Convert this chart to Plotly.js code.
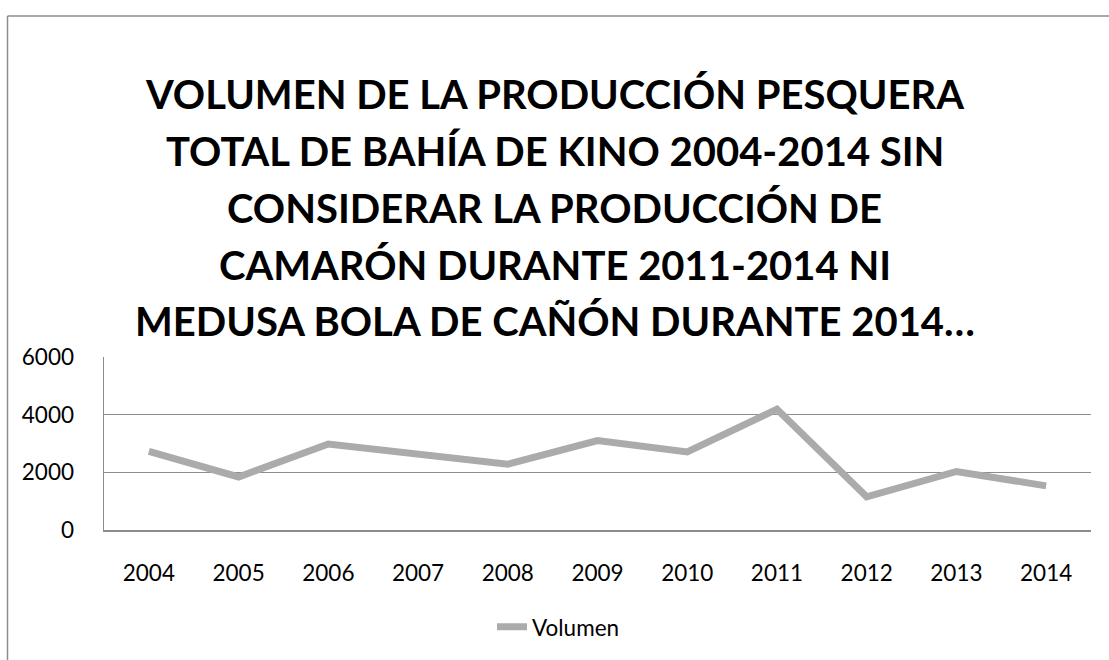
<!DOCTYPE html>
<html>
<head>
<meta charset="utf-8">
<script src="https://cdn.plot.ly/plotly-3.0.1.min.js"></script>
<style>html,body{margin:0;padding:0;background:#fff;}#chart{width:1109px;height:660px;}</style>
</head>
<body>
<div id="chart"></div>
<script>
const years = ['2004','2005','2006','2007','2008','2009','2010','2011','2012','2013','2014'];
const volumen = [2730, 1840, 2980, 2640, 2280, 3100, 2710, 4190, 1150, 2030, 1530];
const yTicks = [0, 2000, 4000, 6000];
const seriesName = 'Volumen';
const titleLines = [
  'VOLUMEN DE LA PRODUCCIÓN PESQUERA',
  'TOTAL DE BAHÍA DE KINO 2004-2014 SIN',
  'CONSIDERAR LA PRODUCCIÓN DE',
  'CAMARÓN DURANTE 2011-2014 NI',
  'MEDUSA BOLA DE CAÑÓN DURANTE 2014…'
];

const FONT = 'Lato, "Open Sans", sans-serif';
const W = 1109, H = 660;
const mL = 104, mR = 18, mT = 357, mB = 127;
const pw = W - mL - mR, ph = H - mT - mB;
function px2x(px){ return (px - mL) / pw; }
function py2y(py){ return (H - mB - py) / ph; }

const titleY = [89, 147, 205, 263, 320];
const annotations = titleLines.map((t, i) => ({
  text: '<b>' + t + '</b>', xref: 'paper', yref: 'paper',
  x: px2x(W / 2), y: py2y(titleY[i]), xanchor: 'center', yanchor: 'middle',
  showarrow: false, font: {family: FONT, size: 40, color: '#000'}
}));

const trace = {
  x: years, y: volumen, type: 'scatter', mode: 'lines', name: seriesName,
  line: {color: '#ABABAB', width: 7}
};

const layout = {
  width: W, height: H,
  margin: {l: mL, r: mR, t: mT, b: mB, pad: 0},
  paper_bgcolor: '#fff', plot_bgcolor: '#fff',
  font: {family: FONT, size: 22.5, color: '#000'},
  showlegend: true,
  legend: {orientation: 'h', x: px2x(492), y: py2y(610), xanchor: 'left', yanchor: 'top',
           font: {family: FONT, size: 22.5, color: '#000'}, bgcolor: 'rgba(0,0,0,0)'},
  xaxis: {type: 'category', range: [-0.5, 10.5], showgrid: false, zeroline: false,
          showline: true, linecolor: '#8C8C8C', linewidth: 1.5,
          ticks: 'outside', ticklen: 22, tickcolor: 'rgba(0,0,0,0)', fixedrange: true},
  yaxis: {range: [0, 6000], tickvals: yTicks, ticktext: yTicks.map(String), showgrid: true,
          gridcolor: '#8C8C8C', gridwidth: 1.5, zeroline: false,
          showline: true, linecolor: '#8C8C8C', linewidth: 1.5,
          ticks: 'outside', ticklen: 24, tickcolor: 'rgba(0,0,0,0)', fixedrange: true},
  annotations: annotations,
  shapes: [
    {type: 'line', xref: 'paper', yref: 'paper', x0: px2x(7.5), x1: px2x(1115), y0: py2y(10), y1: py2y(10),
     line: {color: '#8C8C8C', width: 1.5}},
    {type: 'line', xref: 'paper', yref: 'paper', x0: px2x(7.5), x1: px2x(7.5), y0: py2y(10), y1: py2y(670),
     line: {color: '#8C8C8C', width: 1.5}}
  ]
};

Plotly.newPlot('chart', [trace], layout, {displayModeBar: false, staticPlot: true});
</script>
</body>
</html>
